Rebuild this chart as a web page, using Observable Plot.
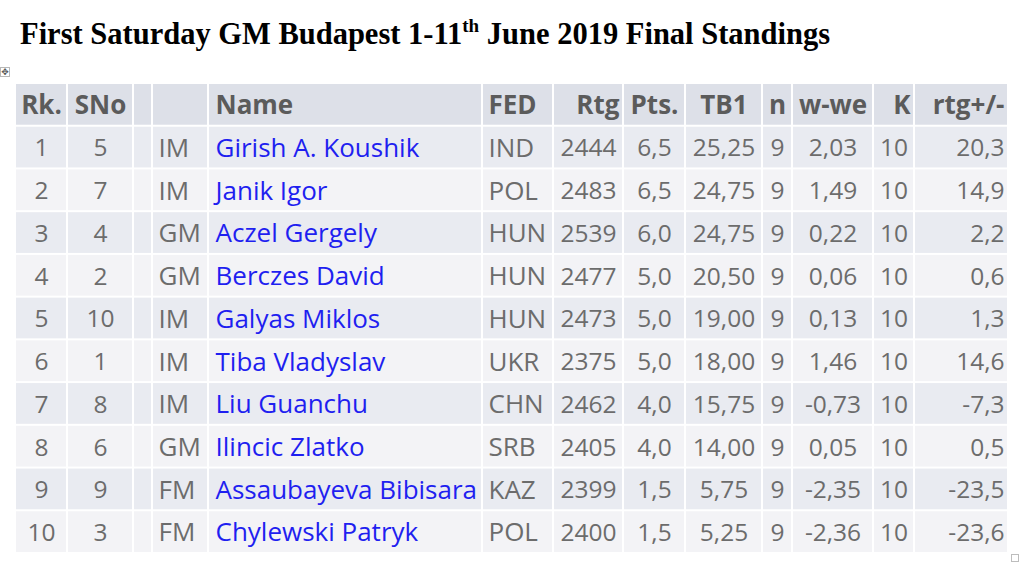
<!DOCTYPE html>
<html>
<head>
<meta charset="utf-8">
<script src="https://cdn.jsdelivr.net/npm/d3@7"></script>
<script src="https://cdn.jsdelivr.net/npm/@observablehq/plot@0.6"></script>
<style>
  html, body { margin: 0; padding: 0; background: #fff; }
  #wrap { position: relative; width: 1024px; height: 568px; overflow: hidden; }
  #title { position: absolute; left: 20px; top: 17px; margin: 0; font: bold 30.5px "Liberation Serif", "Times New Roman", serif; color: #000; white-space: nowrap; }
  #title sup { font-size: 19px; vertical-align: 0; position: relative; top: -12px; }
  #handle { position: absolute; left: 0px; top: 67px; width: 10px; height: 10px; border: 1px solid #b8b8b8; box-sizing: border-box; font: 9px "DejaVu Sans"; line-height: 8px; text-align: center; color: #555; }
  #corner { position: absolute; left: 1011px; top: 554px; width: 8px; height: 8px; border: 1px solid #bdbdbd; box-sizing: border-box; }
  #chart { position: absolute; left: 0; top: 64px; }
</style>
</head>
<body>
<div id="wrap">
  <div id="title">First Saturday GM Budapest 1-11<sup>th</sup> June 2019 Final Standings</div>
  <div id="handle">✥</div>
  <div id="chart"></div>
  <div id="corner"></div>
</div>
<script>
// ---- data ----
const headers = ["Rk.", "SNo", "", "", "Name", "FED", "Rtg", "Pts.", "TB1", "n", "w-we", "K", "rtg+/-"];
const ranks = [1, 2, 3, 4, 5, 6, 7, 8, 9, 10];
const startNos = [5, 7, 4, 2, 10, 1, 8, 6, 9, 3];
const titles = ["IM", "IM", "GM", "GM", "IM", "IM", "IM", "GM", "FM", "FM"];
const names = ["Girish A. Koushik", "Janik Igor", "Aczel Gergely", "Berczes David", "Galyas Miklos",
  "Tiba Vladyslav", "Liu Guanchu", "Ilincic Zlatko", "Assaubayeva Bibisara", "Chylewski Patryk"];
const feds = ["IND", "POL", "HUN", "HUN", "HUN", "UKR", "CHN", "SRB", "KAZ", "POL"];
const ratings = [2444, 2483, 2539, 2477, 2473, 2375, 2462, 2405, 2399, 2400];
const points = [6.5, 6.5, 6.0, 5.0, 5.0, 5.0, 4.0, 4.0, 1.5, 1.5];
const tb1 = [25.25, 24.75, 24.75, 20.50, 19.00, 18.00, 15.75, 14.00, 5.75, 5.25];
const games = [9, 9, 9, 9, 9, 9, 9, 9, 9, 9];
const wWe = [2.03, 1.49, 0.22, 0.06, 0.13, 1.46, -0.73, 0.05, -2.35, -2.36];
const kFactor = [10, 10, 10, 10, 10, 10, 10, 10, 10, 10];
const rtgChange = [20.3, 14.9, 2.2, 0.6, 1.3, 14.6, -7.3, 0.5, -23.5, -23.6];

// ---- layout (styles, not data) ----
const colWidths = [52, 66, 19, 56, 274, 71, 70, 62, 77, 30, 81, 41, 94];
const headAlign = ["middle", "middle", "start", "start", "start", "start", "end", "middle", "middle", "middle", "middle", "end", "end"];
const bodyAlign = ["middle", "middle", "start", "start", "start", "start", "middle", "middle", "middle", "middle", "middle", "middle", "end"];
const isWordCol = [false, false, false, true, true, true, false, false, false, false, false, false, false];
const padStart = [0, 0, 0, 6, 7, 6, 0, 0, 0, 0, 0, 0, 0];
const padEnd = 4;
const FONT = "Open Sans";
const FS_WORD = 26;
const FS_NUM = 24.5;

const comma = (v, d) => v.toFixed(d).replace(".", ",");
const columns = [
  ranks.map(String), startNos.map(String), ranks.map(() => ""), titles, names, feds,
  ratings.map(String), points.map(v => comma(v, 1)), tb1.map(v => comma(v, 2)),
  games.map(String), wWe.map(v => comma(v, 2)), kFactor.map(String), rtgChange.map(v => comma(v, 1))
];

const edges = [0];
colWidths.forEach(w => edges.push(edges[edges.length - 1] + w));
const total = edges[edges.length - 1];
const rowKeys = ["head", ...ranks.map(String)];

const cells = [];
rowKeys.forEach((rk, r) => {
  headers.forEach((h, c) => {
    const isHead = r === 0;
    const text = isHead ? h : columns[c][r - 1];
    const align = isHead ? headAlign[c] : bodyAlign[c];
    const x = align === "middle" ? (edges[c] + edges[c + 1]) / 2
      : align === "start" ? edges[c] + padStart[c]
      : edges[c + 1] - padEnd;
    const bg = isHead ? "#dde0e8" : (r % 2 === 1 ? "#e9ebf1" : "#f3f3f6");
    const color = isHead ? "#5b5b5b" : (c === 4 ? "#1f1ff0" : "#6c6c6c");
    const big = isHead || isWordCol[c];
    cells.push({row: rk, x1: edges[c], x2: edges[c + 1], x, text, align, bg, color, isHead, big});
  });
});

const textMarks = [];
for (const head of [true, false]) {
  for (const big of [true, false]) {
    for (const a of ["start", "middle", "end"]) {
      const sel = cells.filter(d => d.isHead === head && d.big === big && d.align === a && d.text !== "");
      if (!sel.length) continue;
      textMarks.push(Plot.text(sel, {
        x: "x", y: "row", text: "text", fill: "color", textAnchor: a,
        fontFamily: FONT, fontSize: big ? FS_WORD : FS_NUM, fontWeight: head ? "bold" : "normal", dy: 1
      }));
    }
  }
}

const plot = Plot.plot({
  width: 1024,
  height: 504,
  margin: 0,
  x: {type: "linear", domain: [0, total], range: [15, 15 + total], axis: null},
  y: {type: "band", domain: rowKeys, range: [19, 489], padding: 0, round: false, axis: null},
  color: {type: "identity"},
  style: {background: "transparent", overflow: "visible"},
  marks: [
    Plot.barX(cells, {x1: "x1", x2: "x2", y: "row", fill: "bg", inset: 1}),
    ...textMarks
  ]
});
document.getElementById("chart").appendChild(plot);
</script>
</body>
</html>
